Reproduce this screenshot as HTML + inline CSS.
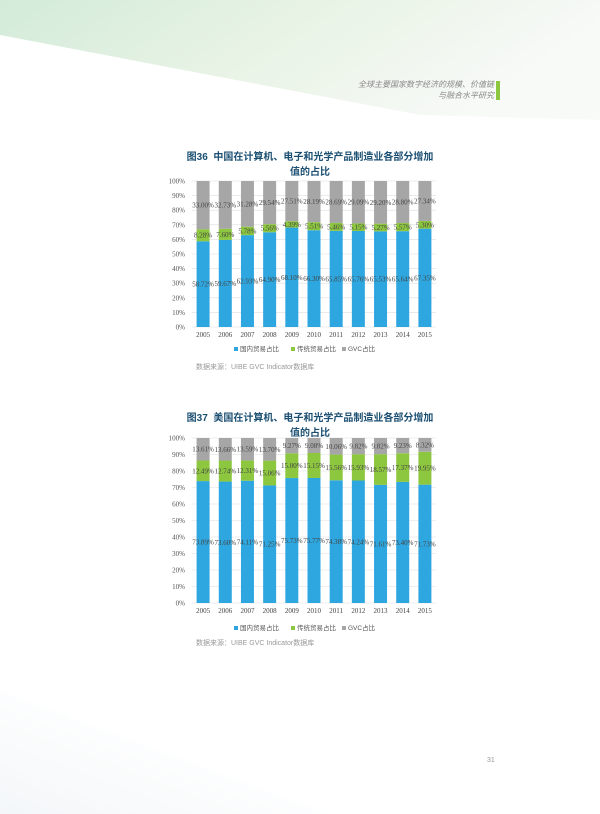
<!DOCTYPE html>
<html><head><meta charset="utf-8">
<style>
body{margin:0;width:600px;height:814px;background:#fff;position:relative;overflow:hidden;font-family:"Liberation Sans","Noto Sans CJK SC",sans-serif}
.hdr{position:absolute;right:106px;font-size:8px;color:#888;font-style:italic;text-align:right}
.title{position:absolute;left:170px;width:280px;text-align:center;font-size:10px;font-weight:bold;color:#1b4f72;line-height:15px}
.src{position:absolute;left:196px;font-size:7px;color:#999}
</style></head><body>
<svg width="600" height="814" style="position:absolute;left:0;top:0">
<defs><linearGradient id="g" x1="0" y1="0" x2="1" y2="0.3"><stop offset="0" stop-color="#d3ebd9"/><stop offset="0.5" stop-color="#e8f3e5"/><stop offset="1" stop-color="#f8faf8"/></linearGradient>
<linearGradient id="g2" x1="0" y1="1" x2="1" y2="0"><stop offset="0" stop-color="#e8eef2"/><stop offset="0.6" stop-color="#fff"/></linearGradient></defs>
<polygon points="0,0 600,0 600,120 420,115 0,35" fill="url(#g)"/>
<polygon points="0,814 0,690 330,814" fill="url(#g2)" opacity="0.5"/>
</svg>
<div class="hdr" style="top:79px">全球主要国家数字经济的规模、价值链<br>与融合水平研究</div>
<div style="position:absolute;left:496px;top:81px;width:4px;height:19px;background:#8dc63f"></div>
<div class="title" style="top:150px">图36&nbsp; 中国在计算机、电子和光学产品制造业各部分增加<br>值的占比</div>
<svg id="c1" width="600" height="814" style="position:absolute;left:0;top:0"></svg>
<div class="src" style="top:362px">数据来源：UIBE GVC Indicator数据库</div>
<div class="title" style="top:411px">图37&nbsp; 美国在计算机、电子和光学产品制造业各部分增加<br>值的占比</div>
<svg id="c2" width="600" height="814" style="position:absolute;left:0;top:0"></svg>
<div class="src" style="top:638px">数据来源：UIBE GVC Indicator数据库</div>
<div style="position:absolute;left:487px;top:757px;font-size:7px;color:#999">31</div>
<script>
const years=["2005","2006","2007","2008","2009","2010","2011","2012","2013","2014","2015"];
const yTicks=["0%","10%","20%","30%","40%","50%","60%","70%","80%","90%","100%"];
const cnDomestic=[58.72,59.67,62.93,64.90,68.10,66.30,65.85,65.76,65.53,65.64,67.35];
const cnTraditional=[8.28,7.60,5.78,5.56,4.39,5.51,5.46,5.15,5.27,5.57,5.30];
const cnGVC=[33.00,32.73,31.28,29.54,27.51,28.19,28.69,29.09,29.20,28.80,27.34];
const usDomestic=[73.89,73.60,74.11,71.25,75.73,75.77,74.38,74.24,71.61,73.40,71.73];
const usTraditional=[12.49,12.74,12.31,15.06,15.00,15.15,15.56,15.93,18.57,17.37,19.95];
const usGVC=[13.61,13.66,13.59,13.70,9.27,9.08,10.06,9.82,9.82,9.23,8.32];
const NS="http://www.w3.org/2000/svg";
function mk(p,t,a,name){const e=document.createElementNS(NS,t);for(const k in a)e.setAttribute(k,a[k]);


p.appendChild(e);return e;}
function draw(id,y0,y100,legY,dom,tra,gvc){
 const s=document.getElementById(id);
 const x0=192,x1=436,n=years.length,bw=(x1-x0)/n;
 const Y=v=>y0-(y0-y100)*v/100;
 const X=i=>x0+bw*(i+0.5);
 yTicks.forEach((t,i)=>{const y=Y(i*10);
  mk(s,'line',{x1:x0,x2:x1,y1:y,y2:y,stroke:'#ddd','stroke-width':0.6},'gridline');
  const tx=mk(s,'text',{x:185,y:y+2.5,'text-anchor':'end','font-size':7,fill:'#555','font-family':'Liberation Serif, serif'},'y-tick-label');tx.textContent=t;});
 const cols=['#2ea7e0','#8dc63f','#a6a6a6'];
 years.forEach((yr,i)=>{
  const vals=[dom[i],tra[i],gvc[i]];let acc=0;
  vals.forEach((v,k)=>{const top=Y(acc+v),bot=Y(acc);
   mk(s,'rect',{x:X(i)-6.5,y:top,width:13,height:bot-top,fill:cols[k]},['bar-domestic','bar-traditional','bar-gvc'][k]+'-'+yr);
   const t=mk(s,'text',{x:X(i),y:(top+bot)/2+2.5,'text-anchor':'middle','font-size':7,fill:'#444','font-family':'Liberation Serif, serif'},'value-label');
   t.textContent=v.toFixed(2)+'%';acc+=v;});
  const xl=mk(s,'text',{x:X(i),y:y0+10,'text-anchor':'middle','font-size':7,fill:'#444','font-family':'Liberation Serif, serif'},'x-tick-label');xl.textContent=yr;
 });
 const leg=[['国内贸易占比',240],['传统贸易占比',297],['GVC占比',348]];
 leg.forEach((l,k)=>{mk(s,'rect',{x:l[1]-6,y:legY-4,width:4,height:4,fill:cols[k]},'legend-swatch');
  const t=mk(s,'text',{x:l[1],y:legY,'font-size':6.5,fill:'#555'},'legend-entry');t.textContent=l[0];});
}
draw('c1',327,181,351,cnDomestic,cnTraditional,cnGVC);
draw('c2',603,438,630,usDomestic,usTraditional,usGVC);
</script>
</body></html>
